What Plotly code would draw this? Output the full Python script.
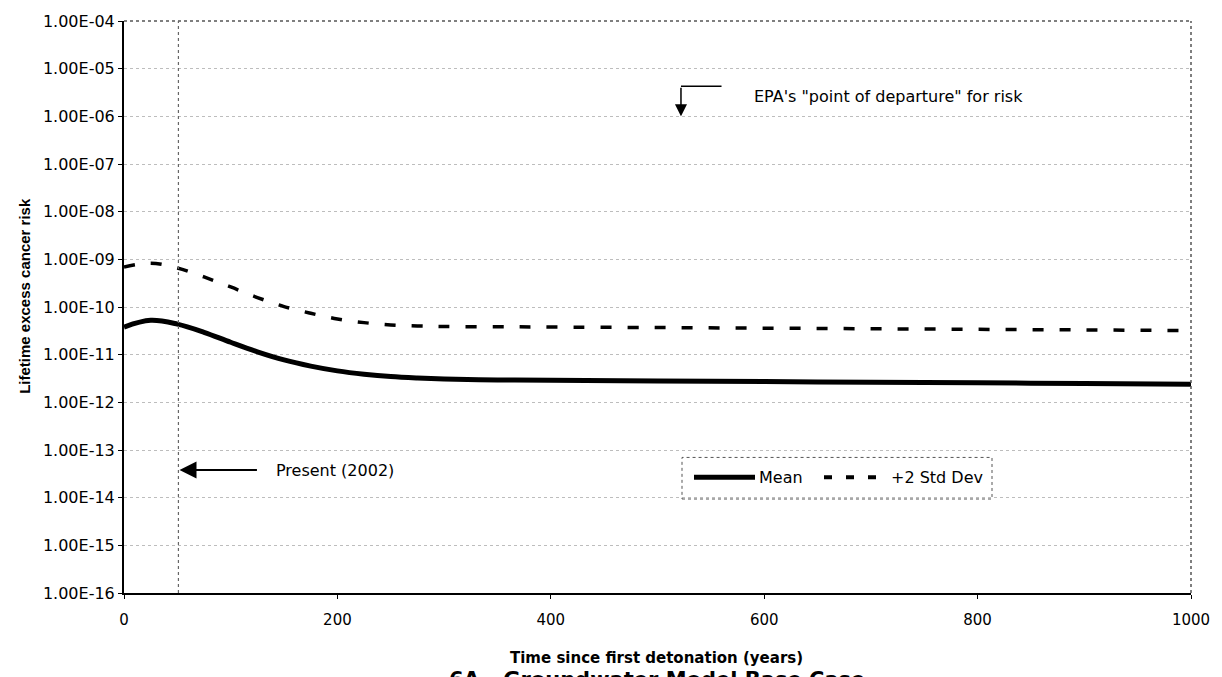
import plotly.graph_objects as go

# Years since first detonation
years = [0, 25, 50, 75, 100, 125, 150, 175, 200, 225, 250, 275, 300, 350,
         400, 500, 600, 700, 800, 900, 1000]

# Mean lifetime excess cancer risk
risk_mean = [3.8e-11, 5.25e-11, 4.37e-11, 2.95e-11, 1.82e-11, 1.15e-11,
             7.76e-12, 5.75e-12, 4.57e-12, 3.89e-12, 3.47e-12, 3.24e-12,
             3.09e-12, 2.95e-12, 2.9e-12, 2.8e-12, 2.72e-12, 2.64e-12,
             2.56e-12, 2.48e-12, 2.4e-12]

# Mean + 2 standard deviations
risk_2sd = [6.9e-10, 8.3e-10, 6.6e-10, 4.27e-10, 2.63e-10, 1.58e-10,
            1.02e-10, 7.4e-11, 5.6e-11, 4.7e-11, 4.2e-11, 4.0e-11, 3.9e-11,
            3.85e-11, 3.8e-11, 3.7e-11, 3.6e-11, 3.5e-11, 3.4e-11, 3.3e-11,
            3.2e-11]

# Y-axis decades and their labels
y_ticks = [10.0 ** -k for k in range(4, 17)]
y_tick_text = ["1.00E-%02d" % k for k in range(4, 17)]
x_ticks = [0, 200, 400, 600, 800, 1000]

present_year = 51          # 2002, years since first detonation
epa_level = 1e-6           # EPA point of departure

FONT = "DejaVu Sans, Verdana, sans-serif"
NARROW = "Liberation Sans, Arial, sans-serif"

# Plot-area geometry in pixels, used to place the hand-built legend
PLOT_L, PLOT_W, PLOT_B, PLOT_H = 124, 1067, 593, 578


def px(x):
    return (x - PLOT_L) / PLOT_W


def py(y):
    return (PLOT_B - y) / PLOT_H


fig = go.Figure()
fig.add_trace(go.Scatter(
    x=years, y=risk_mean, name="Mean", mode="lines", showlegend=False,
    line=dict(color="black", width=5, shape="spline", smoothing=1.0),
))
fig.add_trace(go.Scatter(
    x=years, y=risk_2sd, name="+2 Std Dev", mode="lines", showlegend=False,
    line=dict(color="black", width=3.5, dash="11px,16px", shape="spline",
              smoothing=1.0),
))

fig.update_layout(
    width=1222, height=677,
    margin=dict(l=PLOT_L, r=31, t=15, b=84),
    paper_bgcolor="white", plot_bgcolor="white",
    font=dict(family=FONT, size=15, color="black"),
)

fig.update_xaxes(
    range=[0, 1000], tickvals=x_ticks, ticktext=[str(v) for v in x_ticks],
    showgrid=False, zeroline=False,
    showline=True, linecolor="black", linewidth=2,
    ticks="outside", ticklen=4, tickcolor="black",
    tickfont=dict(family=FONT, size=15),
    ticklabelstandoff=8,
)
fig.update_yaxes(
    type="log", range=[-16, -4], tickvals=y_ticks, ticktext=y_tick_text,
    showgrid=True, gridcolor="#bdbdbd", griddash="dot", gridwidth=1,
    zeroline=False,
    showline=True, linecolor="black", linewidth=2,
    ticks="outside", ticklen=4, tickcolor="black",
    tickfont=dict(family=FONT, size=16),
)

# Dotted top and right frame
fig.add_shape(type="line", xref="paper", yref="paper", x0=0, x1=1, y0=1, y1=1,
              line=dict(color="#555555", width=1.5, dash="dot"))
fig.add_shape(type="line", xref="paper", yref="paper", x0=1, x1=1, y0=0, y1=1,
              line=dict(color="#555555", width=1.5, dash="dot"))

# Present (2002) marker line
fig.add_shape(type="line", xref="x", yref="paper", x0=present_year, x1=present_year,
              y0=0, y1=1, line=dict(color="#666666", width=1.2, dash="dot"))

# Legend: frame, line samples and labels
fig.add_shape(type="rect", xref="paper", yref="paper",
              x0=px(682), x1=px(992), y0=py(498), y1=py(456),
              line=dict(color="#555555", width=1, dash="dot"))
fig.add_shape(type="line", xref="paper", yref="paper",
              x0=px(694), x1=px(755), y0=py(476), y1=py(476),
              line=dict(color="black", width=5))
fig.add_annotation(x=px(757), y=py(476), xref="paper", yref="paper",
                   text="Mean", showarrow=False, xanchor="left",
                   yanchor="middle", font=dict(family=FONT, size=16))
fig.add_shape(type="line", xref="paper", yref="paper",
              x0=px(824), x1=px(876), y0=py(476), y1=py(476),
              line=dict(color="black", width=4, dash="8px,14px"))
fig.add_annotation(x=px(889), y=py(476), xref="paper", yref="paper",
                   text="+2 Std Dev", showarrow=False, xanchor="left",
                   yanchor="middle", font=dict(family=FONT, size=16))

# Present (2002) arrow and label
fig.add_annotation(
    x=present_year + 1, y=-13.42, ax=126, ay=-13.42,
    xref="x", yref="y", axref="x", ayref="y",
    text="", showarrow=True, arrowhead=2, arrowsize=1.7, arrowwidth=2,
    arrowcolor="black",
)
fig.add_annotation(
    x=141, y=-13.42, xref="x", yref="y", text="Present (2002)",
    showarrow=False, xanchor="left", yanchor="middle",
    font=dict(family=FONT, size=16),
)

# EPA point-of-departure bent arrow and label
fig.add_shape(type="line", xref="x", yref="y", x0=522, x1=560, y0=10 ** -5.37,
              y1=10 ** -5.37, line=dict(color="black", width=1.5))
fig.add_annotation(
    x=522, y=-6.0, ax=522, ay=-5.37,
    xref="x", yref="y", axref="x", ayref="y",
    text="", showarrow=True, arrowhead=2, arrowsize=1.6, arrowwidth=1.5,
    arrowcolor="black",
)
fig.add_annotation(
    x=589, y=-5.58, xref="x", yref="y",
    text="EPA's \"point of departure\" for risk",
    showarrow=False, xanchor="left", yanchor="middle",
    font=dict(family=FONT, size=16),
)

# Axis titles
fig.add_annotation(
    x=-0.094, y=0.519, xref="paper", yref="paper",
    text="<b>Lifetime excess cancer risk</b>", textangle=-90,
    showarrow=False, xanchor="center", yanchor="middle",
    font=dict(family=NARROW, size=15),
)
fig.add_annotation(
    x=0.4986, y=-0.114, xref="paper", yref="paper",
    text="<b>Time since first detonation (years)</b>",
    showarrow=False, xanchor="center", yanchor="middle",
    font=dict(family=FONT, size=15),
)
fig.add_annotation(
    x=px(447), y=-0.152, xref="paper", yref="paper",
    text="<b>6A - Groundwater Model Base Case</b>",
    showarrow=False, xanchor="left", yanchor="middle",
    font=dict(family=FONT, size=21),
)

fig.write_html("out.html")
